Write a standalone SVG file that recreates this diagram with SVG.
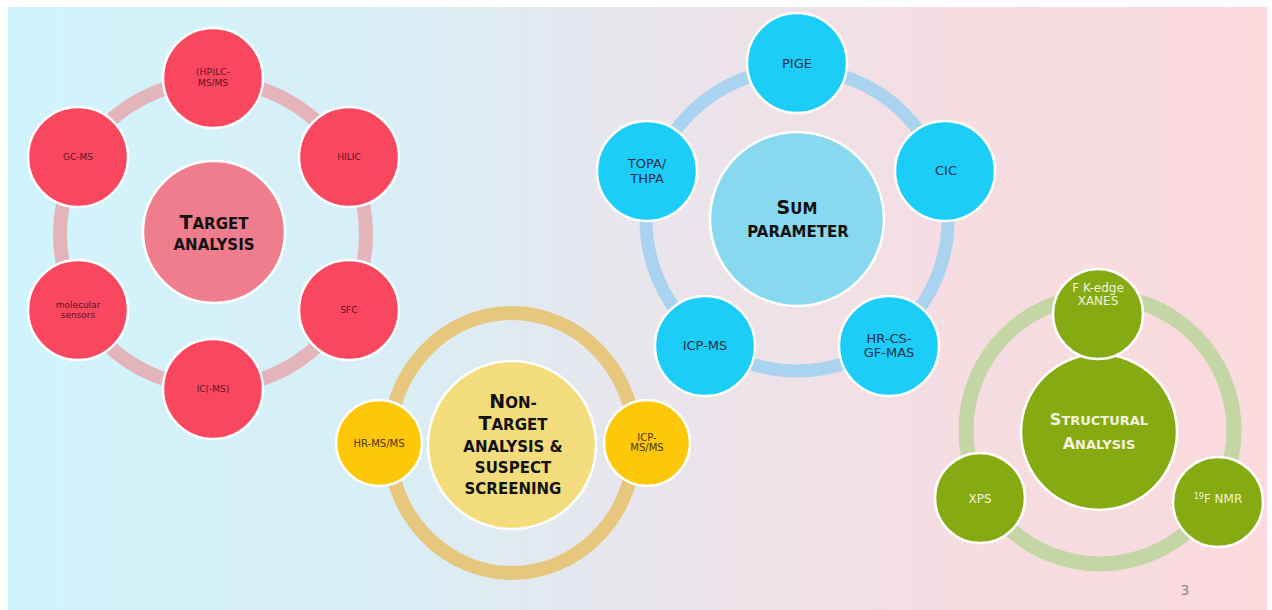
<svg xmlns="http://www.w3.org/2000/svg" width="1272" height="610" viewBox="0 0 1272 610">
<defs>
<linearGradient id="bg" x1="0" y1="0" x2="1" y2="0">
<stop offset="0" stop-color="#d0f4fc"/>
<stop offset="0.3" stop-color="#d9eef6"/>
<stop offset="0.5" stop-color="#e8e6ec"/>
<stop offset="0.75" stop-color="#f5dde2"/>
<stop offset="1" stop-color="#fadadd"/>
</linearGradient>
</defs>
<style>
text{font-family:"DejaVu Sans","Verdana",sans-serif;text-anchor:middle}
.ring{fill:none}
.node{stroke:#fff;stroke-width:2.5}
.red{fill:#f9475f}
.blue{fill:#1ccdf7}
.yel{fill:#fec80a}
.grn{fill:#86aa12}
.tr{fill:#5c1420;font-size:9px}
.tb{fill:#1e2f48;font-size:13px}
.ty{fill:#4a3500;font-size:10px}
.tg{fill:#f4f1dc;font-size:12px}
.big{font-weight:bold;fill:#111}
</style>
<rect x="0" y="0" width="1272" height="610" fill="#fff"/>
<rect x="8" y="7" width="1259" height="603" fill="url(#bg)"/>

<g id="connectors">
<circle class="ring" cx="213" cy="234" r="153" stroke="#e3b5bb" stroke-width="14"/>
<circle class="ring" cx="797" cy="220" r="151" stroke="#aad3f0" stroke-width="13"/>
<ellipse class="ring" cx="512" cy="443" rx="123" ry="130" stroke="#e6c77d" stroke-width="14"/>
<circle class="ring" cx="1100" cy="430" r="134" stroke="#c4d5a6" stroke-width="15"/>
</g>

<g id="target-analysis">
<circle class="node" cx="214" cy="232" r="71" fill="#f07d8e"/>
<text class="big" x="214" y="229"><tspan font-size="19">T</tspan><tspan font-size="15">ARGET</tspan></text>
<text class="big" x="214" y="250" font-size="15">ANALYSIS</text>
</g>
<g id="hplc"><circle class="node red" cx="213" cy="78" r="50"/><text class="tr" x="213" y="75">(HP)LC-</text><text class="tr" x="213" y="86">MS/MS</text></g>
<g id="hilic"><circle class="node red" cx="349" cy="157" r="50"/><text class="tr" x="349" y="160">HILIC</text></g>
<g id="sfc"><circle class="node red" cx="349" cy="310" r="50"/><text class="tr" x="349" y="313">SFC</text></g>
<g id="ic-ms"><circle class="node red" cx="213" cy="389" r="50"/><text class="tr" x="213" y="392">IC(-MS)</text></g>
<g id="molecular-sensors"><circle class="node red" cx="78" cy="310" r="50"/><text class="tr" x="78" y="308" font-size="8">molecular</text><text class="tr" x="78" y="318" font-size="8">sensors</text></g>
<g id="gc-ms"><circle class="node red" cx="78" cy="157" r="50"/><text class="tr" x="78" y="160">GC-MS</text></g>

<g id="sum-parameter">
<circle class="node" cx="797" cy="219" r="87" fill="#88d8f0"/>
<text class="big" x="797" y="214"><tspan font-size="19">S</tspan><tspan font-size="15">UM</tspan></text>
<text class="big" x="798" y="237" font-size="15">PARAMETER</text>
</g>
<g id="pige"><circle class="node blue" cx="797" cy="63" r="50"/><text class="tb" x="797" y="68" font-size="11">PIGE</text></g>
<g id="cic"><circle class="node blue" cx="945" cy="171" r="50"/><text class="tb" x="946" y="175" font-size="11">CIC</text></g>
<g id="hr-cs-gf-mas"><circle class="node blue" cx="889" cy="346" r="50"/><text class="tb" x="889" y="343">HR-CS-</text><text class="tb" x="889" y="357">GF-MAS</text></g>
<g id="icp-ms"><circle class="node blue" cx="705" cy="346" r="50"/><text class="tb" x="705" y="350">ICP-MS</text></g>
<g id="topa-thpa"><circle class="node blue" cx="647" cy="171" r="50"/><text class="tb" x="647" y="168">TOPA/</text><text class="tb" x="647" y="183">THPA</text></g>

<g id="non-target">
<circle class="node" cx="512" cy="445" r="84" fill="#f3dc7b"/>
<text class="big" x="513" y="408"><tspan font-size="19">N</tspan><tspan font-size="15">ON-</tspan></text>
<text class="big" x="513" y="430"><tspan font-size="19">T</tspan><tspan font-size="15">ARGET</tspan></text>
<text class="big" x="513" y="452" font-size="15">ANALYSIS &amp;</text>
<text class="big" x="513" y="473" font-size="15">SUSPECT</text>
<text class="big" x="513" y="494" font-size="15">SCREENING</text>
</g>
<g id="hr-ms-ms"><circle class="node yel" cx="379" cy="443" r="43"/><text class="ty" x="379" y="447">HR-MS/MS</text></g>
<g id="icp-ms-ms"><circle class="node yel" cx="647" cy="443" r="43"/><text class="ty" x="647" y="441">ICP-</text><text class="ty" x="647" y="451">MS/MS</text></g>

<g id="structural-analysis">
<circle class="node" cx="1099" cy="432" r="78" fill="#86aa12"/>
<text class="big" x="1099" y="425" fill="#f4f1dc" style="fill:#f4f1dc"><tspan font-size="16">S</tspan><tspan font-size="13">TRUCTURAL</tspan></text>
<text class="big" x="1099" y="449" style="fill:#f4f1dc"><tspan font-size="16">A</tspan><tspan font-size="13">NALYSIS</tspan></text>
</g>
<g id="f-k-edge-xanes"><circle class="node grn" cx="1098" cy="314" r="45"/><text class="tg" x="1098" y="292">F K-edge</text><text class="tg" x="1098" y="305">XANES</text></g>
<g id="xps"><circle class="node grn" cx="980" cy="498" r="45"/><text class="tg" x="980" y="503">XPS</text></g>
<g id="f19-nmr"><circle class="node grn" cx="1218" cy="502" r="45"/><text class="tg" x="1218" y="503"><tspan font-size="8" dy="-4">19</tspan><tspan dy="4">F NMR</tspan></text></g>

<text x="1185" y="595" font-size="14" fill="#8a8a8a" style="font-family:'DejaVu Sans',sans-serif">3</text>
</svg>
